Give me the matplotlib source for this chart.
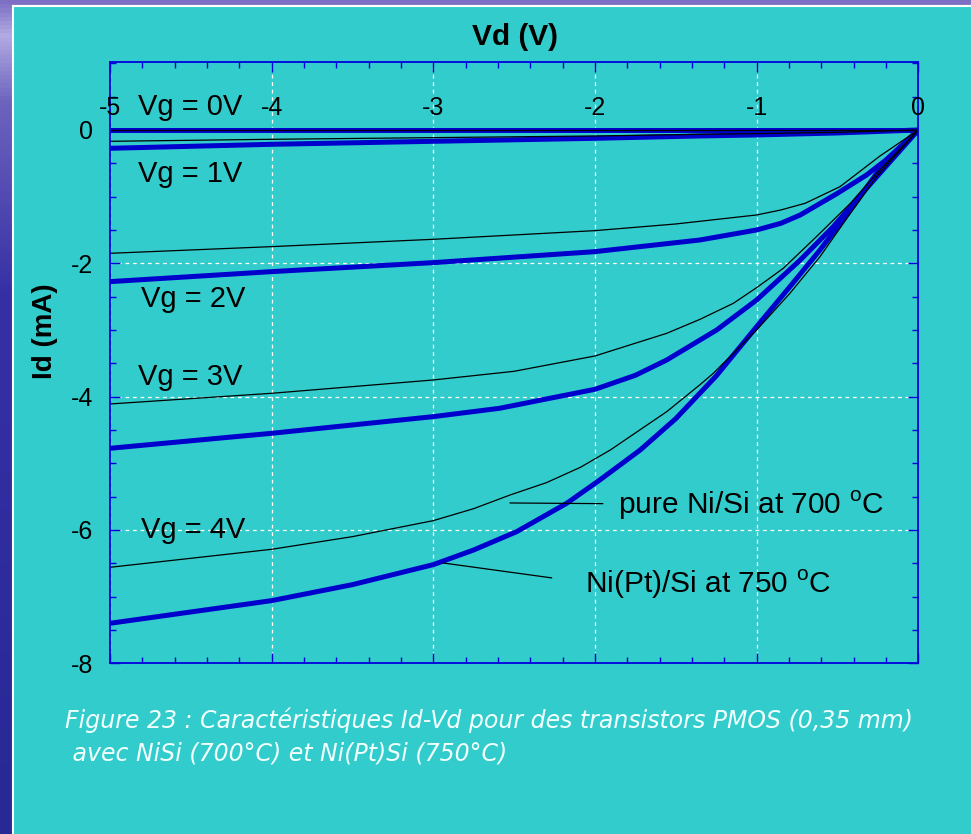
import numpy as np
import matplotlib
matplotlib.use("Agg")
import matplotlib.pyplot as plt
from matplotlib.patches import Rectangle
from matplotlib.ticker import MultipleLocator

plt.rcParams['font.family'] = ['Liberation Sans', 'DejaVu Sans']
plt.rcParams['mathtext.fontset'] = 'custom'
plt.rcParams['mathtext.rm'] = 'Liberation Sans'

# courbes Id-Vd (Vd en V, Id en mA)
# NiSi pur a 700 C (trait fin noir)
vd_ni_0 = [-5, -2.5, 0]
id_ni_0 = [0, 0, 0]
vd_ni_1 = [-5, -4, -3, -2, -1.35, -1, -0.5, 0]
id_ni_1 = [-0.17, -0.14, -0.115, -0.09, -0.065, -0.055, -0.035, 0]
vd_ni_2 = [-5, -4, -3, -2, -1.5, -1, -0.85, -0.7, -0.484, -0.237, 0]
id_ni_2 = [-1.85, -1.75, -1.64, -1.51, -1.41, -1.275, -1.2, -1.1, -0.85, -0.39, 0]
vd_ni_3 = [-5, -4, -3, -2.5, -2, -1.556, -1.35, -1.144, -1, -0.835, -0.63, -0.42, -0.257, 0]
id_ni_3 = [-4.11, -3.95, -3.75, -3.62, -3.39, -3.05, -2.84, -2.6, -2.365, -2.075, -1.6, -1.1, -0.65, 0]
vd_ni_4 = [-5, -4, -3.5, -3, -2.75, -2.525, -2.3, -2.09, -1.905, -1.556, -1.35, -1.268, -1,
           -0.794, -0.608, -0.42, -0.257, 0]
id_ni_4 = [-6.56, -6.29, -6.1, -5.86, -5.68, -5.475, -5.29, -5.06, -4.8, -4.225, -3.82, -3.65, -3.0,
           -2.45, -1.9, -1.25, -0.7, 0]

# Ni(Pt)Si a 750 C (trait epais bleu)
vd_pt_0 = [-5, -2.5, 0]
id_pt_0 = [0, 0, 0]
vd_pt_1 = [-5, -4, -3, -2, -1.35, -1, -0.5, 0]
id_pt_1 = [-0.275, -0.215, -0.17, -0.125, -0.09, -0.075, -0.045, 0]
vd_pt_2 = [-5, -4, -3, -2, -1.35, -1, -0.85, -0.73, -0.5, -0.32, -0.2, 0]
id_pt_2 = [-2.275, -2.125, -1.99, -1.825, -1.65, -1.5, -1.4, -1.275, -0.95, -0.675, -0.45, 0]
vd_pt_3 = [-5, -4, -3, -2.59, -2, -1.75, -1.556, -1.247, -1, -0.73, -0.526, -0.32, 0]
id_pt_3 = [-4.775, -4.55, -4.3, -4.175, -3.89, -3.68, -3.45, -3.0, -2.55, -1.95, -1.45, -0.875, 0]
vd_pt_4 = [-5, -4, -3.5, -3, -2.75, -2.484, -2.175, -1.97, -1.72, -1.5, -1.25, -1,
           -0.794, -0.608, -0.42, -0.257, 0]
id_pt_4 = [-7.4, -7.06, -6.82, -6.52, -6.3, -6.025, -5.6, -5.25, -4.8, -4.33, -3.69, -2.95,
           -2.35, -1.8, -1.2, -0.65, 0]

ni_curves = [(vd_ni_0, id_ni_0), (vd_ni_1, id_ni_1), (vd_ni_2, id_ni_2), (vd_ni_3, id_ni_3), (vd_ni_4, id_ni_4)]
pt_curves = [(vd_pt_0, id_pt_0), (vd_pt_1, id_pt_1), (vd_pt_2, id_pt_2), (vd_pt_3, id_pt_3), (vd_pt_4, id_pt_4)]

vg_labels = ['Vg = 0V', 'Vg = 1V', 'Vg = 2V', 'Vg = 3V', 'Vg = 4V']
vg_label_x = [-4.827, -4.827, -4.81, -4.827, -4.81]
vg_label_y = [0.225, -0.775, -2.65, -3.825, -6.115]

x_ticks = [-5, -4, -3, -2, -1, 0]
x_tick_labels = ['-5', '-4', '-3', '-2', '-1', '0']
y_ticks = [-8, -6, -4, -2, 0]
y_tick_labels = ['-8', '-6', '-4', '-2', '0']

W, H = 971, 834
fig = plt.figure(figsize=(W / 100, H / 100), dpi=100)

# fond de la diapo : degrade violet + cadre cyan
ax_bg = fig.add_axes([0, 0, 1, 1], zorder=-10)
stops = np.array([0.0, 0.04, 0.12, 0.35, 1.0])
cols = np.array([[125, 112, 196], [178, 170, 226], [110, 100, 190], [55, 48, 165], [40, 40, 150]]) / 255
t = np.linspace(0, 1, 200)
grad = np.stack([np.interp(t, stops, cols[:, k]) for k in range(3)], axis=1)[:, None, :]
ax_bg.imshow(grad, extent=(0, W, H, 0), aspect='auto')
ax_bg.add_patch(Rectangle((13, 6), W + 20, H + 20, facecolor='#33cccc', edgecolor='white', lw=1.5))
ax_bg.set_xlim(0, W)
ax_bg.set_ylim(H, 0)
ax_bg.axis('off')

blue = '#0000cc'
ax = fig.add_axes([110 / W, 170.7 / H, 808.3 / W, 601 / H])
ax.set_facecolor('none')

for vd, idd in pt_curves:
    ax.plot(vd, idd, color=blue, lw=3.6, solid_capstyle='butt', solid_joinstyle='round')
for vd, idd in ni_curves:
    ax.plot(vd, idd, color='black', lw=0.9)

ax.set_xlim(-5, 0)
ax.set_ylim(-8, 1.015)

ax.set_xticks(x_ticks)
ax.set_xticklabels([])
ax.xaxis.set_minor_locator(MultipleLocator(0.2))
ax.set_yticks(y_ticks)
ax.set_yticklabels(y_tick_labels, fontsize=18)
ax.yaxis.set_minor_locator(MultipleLocator(0.5))
ax.tick_params(which='both', direction='in', top=True, right=True, color='#0000dd',
               labelbottom=False)
ax.tick_params(which='major', length=7, width=1)
ax.tick_params(which='minor', length=4.5, width=1)
ax.tick_params(axis='y', pad=12)
for sp in ax.spines.values():
    sp.set_color('#0000dd')
    sp.set_linewidth(1.3)

ax.set_axisbelow(True)
ax.grid(True, which='major', color='white', linestyle=(0, (3, 3)), lw=0.9)

# etiquettes de l'axe Vd dans le cadre, sous l'axe du haut
for v, lab in zip(x_ticks, x_tick_labels):
    ax.text(v, 0.225, lab, ha='center', va='baseline', fontsize=18)

for lab, x, y in zip(vg_labels, vg_label_x, vg_label_y):
    ax.text(x, y, lab, ha='left', va='baseline', fontsize=21)

ax.annotate('pure Ni/Si at 700 $^{\\mathrm{o}}$C', xy=(-2.526, -5.595), xytext=(-1.857, -5.76),
            fontsize=21.5, va='baseline',
            arrowprops=dict(arrowstyle='-', color='black', lw=0.9, shrinkA=9, shrinkB=0, relpos=(0, 0.55)))
ax.annotate('Ni(Pt)/Si at 750 $^{\\mathrm{o}}$C', xy=(-2.94, -6.495), xytext=(-2.063, -6.94),
            fontsize=21.5, va='baseline',
            arrowprops=dict(arrowstyle='-', color='black', lw=0.9, shrinkA=22, shrinkB=0, relpos=(0, 0.55)))

fig.text(515.5 / W, (H - 45) / H, 'Vd (V)', ha='center', va='baseline', fontsize=21.5, fontweight='bold')
fig.text(45 / W, (H - 331) / H, 'Id (mA)', ha='center', va='center', rotation=90,
         fontsize=20, fontweight='bold')

cap_font = dict(ha='left', va='baseline', fontsize=17, style='italic', color='#f2ffff',
                family=['DejaVu Sans'])
fig.text(65 / W, (H - 728.3) / H, 'Figure 23 : Caractéristiques Id-Vd pour des transistors PMOS (0,35 mm)',
         **cap_font)
fig.text(65 / W, (H - 760) / H, ' avec NiSi (700°C) et Ni(Pt)Si (750°C)', **cap_font)

fig.savefig('out.png', dpi=100)
